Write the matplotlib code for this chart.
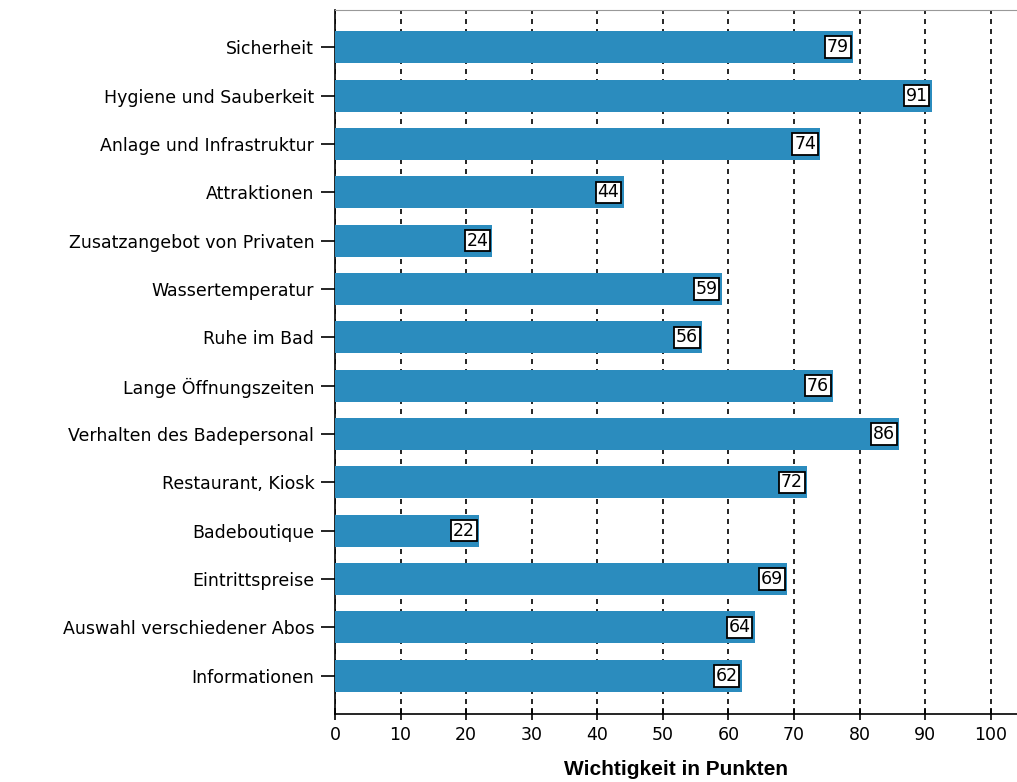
import matplotlib
matplotlib.use("Agg")
import matplotlib.pyplot as plt

categories = ["Sicherheit", "Hygiene und Sauberkeit", "Anlage und Infrastruktur",
              "Attraktionen", "Zusatzangebot von Privaten", "Wassertemperatur",
              "Ruhe im Bad", "Lange Öffnungszeiten", "Verhalten des Badepersonal",
              "Restaurant, Kiosk", "Badeboutique", "Eintrittspreise",
              "Auswahl verschiedener Abos", "Informationen"]
values = [79, 91, 74, 44, 24, 59, 56, 76, 86, 72, 22, 69, 64, 62]
xticks = list(range(0, 101, 10))

plt.rcParams['font.family'] = ['DejaVu Sans']

fig = plt.figure(figsize=(10.17, 7.82), dpi=100)
ax = fig.add_axes([335/1017, 1-714/782, 1-335/1017, (714-10)/782])

ypos = list(range(len(categories)))
ax.barh(ypos, values, height=0.66, color='#2b8cbe', zorder=3)
for y, v in zip(ypos, values):
    ax.annotate(str(v), xy=(v, y), xytext=(-3, 0), textcoords='offset points',
                ha='right', va='center', fontsize=12.5, zorder=4,
                bbox=dict(boxstyle='square,pad=0.1', facecolor='white',
                          edgecolor='black', linewidth=1.3))

ax.set_ylim(len(categories) - 1 + 0.79, -0.77)
ax.set_xlim(0, 104)
ax.set_yticks(ypos)
ax.set_yticklabels(categories, fontsize=12.5)
ax.set_xticks(xticks)
ax.set_xticklabels([str(t) for t in xticks], fontsize=12.5)
ax.tick_params(axis='y', length=10, width=1.2, pad=5)
ax.tick_params(axis='x', direction='inout', length=9, width=1.2, pad=4)
ax.xaxis.grid(True, linestyle=(0, (3, 3)), color='black', linewidth=1.2, zorder=0)
ax.set_axisbelow(True)
ax.spines['right'].set_visible(False)
ax.spines['top'].set_color('#999999')
ax.spines['left'].set_linewidth(1.2)
ax.spines['bottom'].set_linewidth(1.2)
ax.set_xlabel("Wichtigkeit in Punkten", fontsize=15, fontweight='bold',
              family=['Liberation Sans', 'DejaVu Sans'], labelpad=12)

fig.savefig("out.png", dpi=100)
